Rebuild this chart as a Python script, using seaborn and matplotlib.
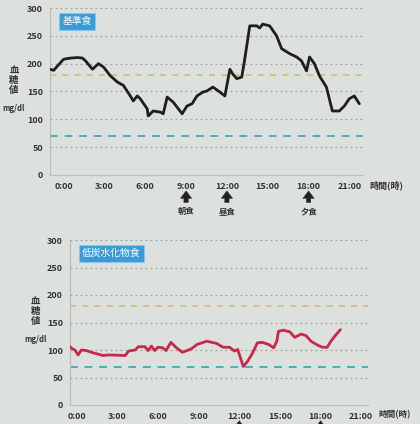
import numpy as np
import pandas as pd
import matplotlib
matplotlib.use("Agg")
import matplotlib.pyplot as plt
import seaborn as sns

# standard meal (基準食) - hours from midnight, glucose mg/dl
std_hours = [-1.0, -0.73, -0.37, 0.0, 0.51, 1.02, 1.39, 1.61, 2.12, 2.56, 2.93, 3.44,
             3.95, 4.39, 4.90, 5.12, 5.41, 5.63, 6.14, 6.22, 6.58, 7.10, 7.32, 7.61,
             8.05, 8.71, 9.07, 9.44, 9.80, 10.24, 10.53, 10.97, 11.48, 11.85, 12.22,
             12.44, 12.73, 13.09, 13.31, 13.68, 14.19, 14.41, 14.63, 15.14, 15.65,
             16.02, 16.61, 17.12, 17.48, 17.85, 18.07, 18.43, 18.80, 19.31, 19.75,
             20.26, 20.63, 20.99, 21.36, 21.73]
std_glucose = [190, 188, 198, 208, 210, 211, 210, 205, 190, 200, 194, 178,
               167, 161, 142, 133, 142, 137, 119, 106, 115, 113, 110, 140,
               131, 110, 124, 128, 142, 149, 151, 158, 149, 142, 190,
               181, 173, 176, 208, 268, 268, 264, 271, 268, 250,
               227, 218, 212, 205, 187, 212, 200, 178, 158, 115,
               115, 124, 137, 142, 128]

# low carbohydrate meal (低炭水化物食)
low_hours = [-0.63, -0.38, -0.14, 0.10, 0.34, 0.70, 1.18, 1.66, 1.90, 2.38, 3.58, 3.82,
             4.31, 4.55, 5.03, 5.27, 5.51, 5.75, 5.99, 6.35, 6.59, 6.95, 7.31, 7.79,
             8.15, 8.51, 8.87, 9.24, 9.60, 10.32, 10.80, 11.28, 11.64, 11.88, 12.12,
             12.29, 12.60, 12.97, 13.33, 13.69, 14.17, 14.53, 14.77, 14.89, 15.25,
             15.73, 16.09, 16.57, 16.93, 17.29, 17.77, 18.13, 18.49, 18.74, 18.98, 19.46]
low_glucose = [109, 103, 100, 91, 100, 99, 95, 92, 90, 91, 90, 98,
               100, 106, 106, 99, 107, 99, 105, 104, 99, 114, 105, 96,
               99, 103, 110, 113, 116, 112, 105, 105, 98, 101, 83,
               70, 79, 94, 113, 114, 110, 104, 116, 134, 136,
               133, 123, 129, 126, 116, 109, 105, 105, 115, 123, 137]

tick_hours = [0, 3, 6, 9, 12, 15, 18, 21]
tick_labels = ["0:00", "3:00", "6:00", "9:00", "12:00", "15:00", "18:00", "21:00"]
y_ticks = [0, 50, 100, 150, 200, 250, 300]
upper_ref = 180
lower_ref = 70
meal_hours = [9, 12, 18]
meal_names = ["朝食", "昼食", "夕食"]

bg = "#dde1de"
sns.set_style("white")
plt.rcParams["font.family"] = ["Noto Sans CJK JP", "DejaVu Sans"]

fig = plt.figure(figsize=(4.2, 4.24), dpi=100, facecolor=bg)
ax1 = fig.add_axes([50 / 420, 1 - 175 / 424, 313 / 420, 167 / 424])
ax2 = fig.add_axes([70 / 420, 1 - 405 / 424, 298 / 420, 165 / 424])


def style_axis(ax, xlim, title, show_meals, unit_x, unit_size):
    ax.set_facecolor(bg)
    ax.set_xlim(*xlim)
    ax.set_ylim(0, 300)
    for y in y_ticks[1:]:
        ax.axhline(y, color="#9aa3a6", lw=0.9, ls=(0, (1.5, 2.5)), zorder=1)
    ax.axhline(upper_ref, color="#d0bb68", lw=1.1, ls=(0, (4, 4)), zorder=1)
    ax.axhline(lower_ref, color="#3fb0c6", lw=1.4, ls=(0, (4, 3.5)), zorder=1)
    ax.set_xticks(tick_hours)
    ax.set_xticklabels(tick_labels)
    ax.set_yticks(y_ticks)
    ax.tick_params(length=0, labelsize=6.5, labelcolor="#333333", pad=5)
    for lbl in ax.get_xticklabels() + ax.get_yticklabels():
        lbl.set_fontweight("bold")
    for side in ["top", "right"]:
        ax.spines[side].set_visible(False)
    for side in ["left", "bottom"]:
        ax.spines[side].set_color("#b8bfc2")
        ax.spines[side].set_linewidth(0.9)
    ax.set_xlabel("")
    ax.set_ylabel("")
    ax.text(0.04, 0.92, title, transform=ax.transAxes, fontsize=7, color="white",
            va="center", ha="left",
            bbox=dict(boxstyle="square,pad=0.35", fc="#3b9ad8", ec="#8cc4e8", lw=0.8))
    ax.text(-0.115, 0.57, "血\n糖\n値", transform=ax.transAxes, fontsize=6.8,
            fontweight="bold", color="#333333", ha="center", va="center", linespacing=1.0)
    ax.text(-0.115, 0.40, "mg/dl", transform=ax.transAxes, fontsize=5.5,
            fontweight="bold", color="#333333", ha="center", va="center")
    ax.text(unit_x, -0.06, "時間(時)", transform=ax.transAxes, fontsize=unit_size,
            fontweight="bold", color="#333333", ha="left", va="center")
    trans = ax.get_xaxis_transform()
    for h, name in zip(meal_hours, meal_names):
        if h not in show_meals:
            continue
        ax.annotate("", xy=(h, -0.095), xytext=(h, -0.165), xycoords=trans,
                    textcoords=trans,
                    arrowprops=dict(arrowstyle="simple,head_width=0.9,head_length=0.6,tail_width=0.35",
                                    fc="#222222", ec="#222222", lw=0.3, mutation_scale=9,
                                    shrinkA=0, shrinkB=0),
                    annotation_clip=False)
        if show_meals[h]:
            ax.text(h, -0.22, name, transform=trans, fontsize=6, fontweight="bold",
                    color="#333333", ha="center", va="center")


std_df = pd.DataFrame({"hour": std_hours, "glucose": std_glucose})
low_df = pd.DataFrame({"hour": low_hours, "glucose": low_glucose})

sns.lineplot(data=std_df, x="hour", y="glucose", ax=ax1, color="#1e1e22", lw=2.0, zorder=3)
sns.lineplot(data=low_df, x="hour", y="glucose", ax=ax2, color="#c8284c", lw=2.0, zorder=3)

style_axis(ax1, (-1, 22), "基準食", {9: True, 12: True, 18: True}, 1.02, 6.5)
style_axis(ax2, (-0.5, 21.5), "低炭水化物食", {12: False, 18: False}, 1.035, 6.2)

fig.savefig("out.png", dpi=100, facecolor=bg)
